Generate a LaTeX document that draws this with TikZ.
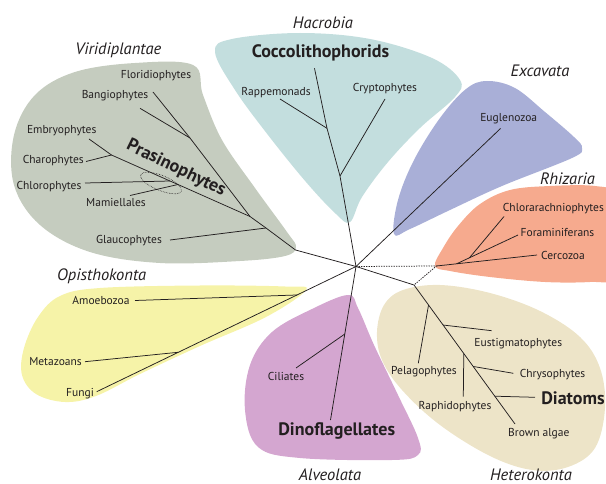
\documentclass[tikz,border=0pt]{standalone}
\usepackage{fontspec}
\setmainfont{PT Sans}
\usepackage{xcolor}
\usepackage{tikz}
\usetikzlibrary{calc,shapes.geometric}
\definecolor{ink}{HTML}{231F20}
\definecolor{virfill}{HTML}{C5CCBF}
\definecolor{hacfill}{HTML}{C3DEDE}
\definecolor{excfill}{HTML}{A9AFD7}
\definecolor{rhifill}{HTML}{F6AA8E}
\definecolor{opifill}{HTML}{F6F3A8}
\definecolor{alvfill}{HTML}{D4A6D0}
\definecolor{hetfill}{HTML}{EDE4C8}
\tikzset{
  branch/.style={draw=ink,line width=.75pt},
  link/.style={branch,dash pattern=on 1.4pt off 1.1pt},
  taxon/.style={font=\fontsize{11.5}{13}\selectfont,text=ink,inner sep=0pt},
  keytaxon/.style={font=\fontsize{18}{20}\selectfont\bfseries,text=ink,inner sep=0pt},
  supergroup/.style={font=\fontsize{16.5}{18}\selectfont\itshape,text=ink,inner sep=0pt},
  ring/.style={draw=ink,ellipse,densely dotted,line width=.6pt,inner sep=0pt},
  blob/.style={smooth cycle,tension=.6},
}

\begin{document}
\begin{tikzpicture}[x=1pt,y=-1pt]
  \useasboundingbox (0,0) rectangle (606,484);
  \clip (0,0) rectangle (606,484);

  \fill[virfill] plot[blob] coordinates {(193,65) (203,95) (222,140) (255,188) (287,232) (296,247)
    (285,256) (240,261) (160,263) (90,252) (40,225) (14,185) (14,135) (35,95) (75,72) (135,63)};
  \fill[hacfill] plot[blob] coordinates {(215,52) (232,39) (300,33) (370,39) (432,58) (460,80)
    (455,97) (420,128) (388,162) (362,197) (350,222) (336,214) (306,182) (268,135) (235,90)};
  \fill[excfill] plot[blob] coordinates {(394,234) (398,200) (414,160) (440,118) (466,89) (487,81)
    (515,88) (545,112) (574,137) (582,148) (572,158) (502,186) (450,210) (410,229)};
  \fill[rhifill] plot[blob] coordinates {(435,266) (443,248) (458,226) (480,204) (510,190) (550,186)
    (595,186) (615,195) (620,240) (615,278) (590,282) (545,282) (490,277) (450,271)};
  \fill[hetfill] plot[blob] coordinates {(377,332) (384,305) (403,290) (440,285) (490,293) (540,311)
    (580,337) (600,368) (605,408) (595,448) (568,467) (532,470) (490,456) (440,425) (402,390) (382,360)};
  \fill[alvfill] plot[blob] coordinates {(348,295) (358,308) (374,345) (398,395) (418,438) (418,455)
    (392,460) (300,458) (258,447) (245,410) (250,365) (272,332) (312,309)};
  \fill[opifill] plot[blob] coordinates {(306,290) (285,286.5) (200,285.5) (100,288) (60,296) (38,317)
    (24,348) (22,375) (36,394) (65,402) (96,396) (140,374) (200,346) (266,317)};

  \coordinate (root) at (356,266.5);

  \coordinate (vir0) at (295.5,250);
  \coordinate (virGl) at (266,228);
  \coordinate (vir1) at (250,216.5);
  \coordinate (virBa) at (190,138);
  \coordinate (virCh) at (111.5,155);
  \coordinate (virCl) at (170,181);
  \coordinate (virMa) at (178,184.5);
  \coordinate (glauEnd) at (170,240);
  \coordinate (florEnd) at (153,92);
  \coordinate (bangEnd) at (140,108.3);
  \coordinate (embrEnd) at (89,139);
  \coordinate (charEnd) at (86,161.5);
  \coordinate (chloEnd) at (85,183);
  \coordinate (mamiEnd) at (130,195.5);

  \coordinate (hac1) at (340,176);
  \coordinate (hac2) at (327,128.3);
  \coordinate (hacTop) at (314.5,68.3);
  \coordinate (crypEnd) at (385,99);
  \coordinate (rappEnd) at (280,99);

  \coordinate (eugEnd) at (500.5,128.5);

  \coordinate (rhi0) at (436.5,266);
  \coordinate (cercEnd) at (537,255);
  \coordinate (rhi1) at ($(rhi0)!.2!(cercEnd)$);
  \coordinate (foraEnd) at (518,235);
  \coordinate (rhi2) at ($(rhi1)!.21!(foraEnd)$);
  \coordinate (chlaEnd) at (504,216.5);

  \coordinate (het0) at (414,285);
  \coordinate (browEnd) at (515,424);
  \coordinate (hetPe) at ($(het0)!.144!(browEnd)$);
  \coordinate (hetEu) at ($(het0)!.288!(browEnd)$);
  \coordinate (hetRa) at ($(het0)!.493!(browEnd)$);
  \coordinate (hetCh) at ($(het0)!.586!(browEnd)$);
  \coordinate (hetDi) at ($(het0)!.80!(browEnd)$);
  \coordinate (pelaEnd) at (418.3,363.3);
  \coordinate (eustEnd) at (491.7,330.7);
  \coordinate (raphEnd) at (463.3,396.7);
  \coordinate (chryEnd) at (513.3,373.3);
  \coordinate (diatEnd) at (535,397.3);

  \coordinate (dinoEnd) at (330.5,420);
  \coordinate (alvCi) at ($(root)!.44!(dinoEnd)$);
  \coordinate (ciliEnd) at (296,368);

  \coordinate (fungEnd) at (96.7,391.7);
  \coordinate (opiAm) at ($(root)!.2275!(fungEnd)$);
  \coordinate (opiMe) at ($(root)!.685!(fungEnd)$);
  \coordinate (amoeEnd) at (135,300.5);
  \coordinate (metaEnd) at (85,361.7);

  \draw[branch] (root) -- (vir0) -- (virGl) -- (vir1) -- (virBa) -- (florEnd);
  \draw[branch] (virGl) -- (glauEnd);
  \draw[branch] (virBa) -- (bangEnd);
  \draw[branch] (vir1) -- (virMa) -- (virCl) -- (virCh) -- (embrEnd);
  \draw[branch] (virCh) -- (charEnd);
  \draw[branch] (virCl) -- (chloEnd);
  \draw[branch] (virMa) -- (mamiEnd);
  \node[ring,minimum width=44pt,minimum height=15pt,rotate=-22] (prasRing) at (161,183) {};

  \draw[branch] (root) -- (hac1) -- (hac2) -- (hacTop);
  \draw[branch] (hac1) -- (crypEnd);
  \draw[branch] (hac2) -- (rappEnd);

  \draw[branch] (root) -- (eugEnd);

  \draw[link] (root) -- (rhi0) -- (het0);
  \draw[branch] (rhi0) -- (cercEnd);
  \draw[branch] (rhi1) -- (foraEnd);
  \draw[branch] (rhi2) -- (chlaEnd);

  \draw[branch] (root) -- (het0) -- (browEnd);
  \draw[branch] (hetPe) -- (pelaEnd);
  \draw[branch] (hetEu) -- (eustEnd);
  \draw[branch] (hetRa) -- (raphEnd);
  \draw[branch] (hetCh) -- (chryEnd);
  \draw[branch] (hetDi) -- (diatEnd);

  \draw[branch] (root) -- (dinoEnd);
  \draw[branch] (alvCi) -- (ciliEnd);

  \draw[branch] (root) -- (fungEnd);
  \draw[branch] (opiAm) -- (amoeEnd);
  \draw[branch] (opiMe) -- (metaEnd);

  \node[supergroup] (viriLbl) at (118.3,50.7) {Viridiplantae};
  \node[taxon] (florLbl) at (156,75.5) {Floridiophytes};
  \node[taxon] (bangLbl) at (115,96) {Bangiophytes};
  \node[taxon] (embrLbl) at (61.7,131) {Embryophytes};
  \node[taxon] (charLbl) at (53.3,161) {Charophytes};
  \node[taxon] (chloLbl) at (49,187) {Chlorophytes};
  \node[taxon] (mamiLbl) at (116,202.7) {Mamiellales};
  \node[taxon] (glauLbl) at (129,240.5) {Glaucophytes};
  \node[keytaxon,rotate=-26] (prasLbl) at (176,168.5) {Prasinophytes};

  \node[supergroup] (hacrLbl) at (323,22.5) {Hacrobia};
  \node[keytaxon] (coccLbl) at (320.5,53) {Coccolithophorids};
  \node[taxon] (rappLbl) at (276,93) {Rappemonads};
  \node[taxon] (crypLbl) at (385,88.5) {Cryptophytes};

  \node[supergroup] (excaLbl) at (540,70.5) {Excavata};
  \node[taxon] (euglLbl) at (508.7,119) {Euglenozoa};

  \node[supergroup] (rhizLbl) at (567.5,179) {Rhizaria};
  \node[taxon,anchor=west] (chlaLbl) at (502.7,208.7) {Chlorarachniophytes};
  \node[taxon] (foraLbl) at (557.5,232.7) {Foraminiferans};
  \node[taxon] (cercLbl) at (563,255) {Cercozoa};

  \node[supergroup] (opisLbl) at (101.7,276) {Opisthokonta};
  \node[taxon] (amoeLbl) at (101,300) {Amoebozoa};
  \node[taxon] (metaLbl) at (55.5,362) {Metazoans};
  \node[taxon] (fungLbl) at (80,393.3) {Fungi};

  \node[taxon] (ciliLbl) at (286,376.7) {Ciliates};
  \node[keytaxon] (dinoLbl) at (336.7,430.7) {Dinoflagellates};
  \node[supergroup] (alveLbl) at (330,475) {Alveolata};

  \node[taxon] (eustLbl) at (518.3,343.3) {Eustigmatophytes};
  \node[taxon] (pelaLbl) at (424,371.7) {Pelagophytes};
  \node[taxon] (chryLbl) at (552.5,375) {Chrysophytes};
  \node[keytaxon] (diatLbl) at (573,398.3) {Diatoms};
  \node[taxon] (raphLbl) at (455,406.7) {Raphidophytes};
  \node[taxon] (browLbl) at (538.8,433.3) {Brown algae};
  \node[supergroup] (hetLbl) at (531,475) {Heterokonta};
\end{tikzpicture}
\end{document}
